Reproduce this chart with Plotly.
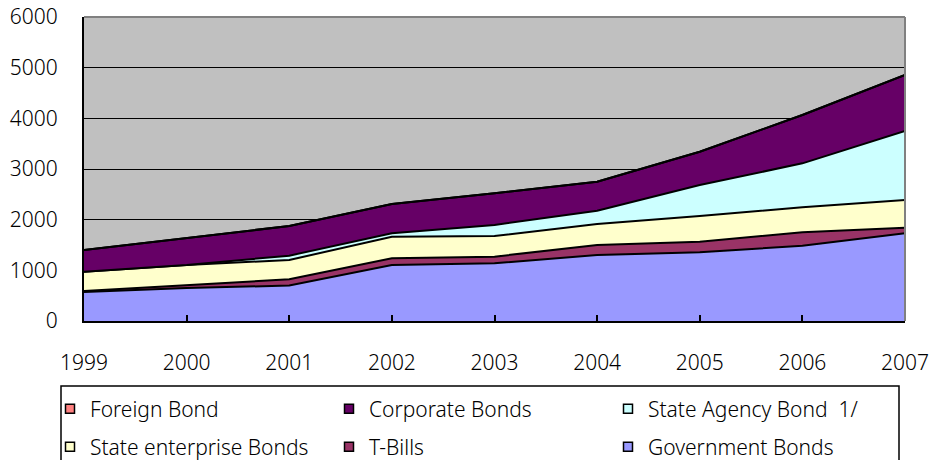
import plotly.graph_objects as go

years = [1999, 2000, 2001, 2002, 2003, 2004, 2005, 2006, 2007]
government_bonds = [570, 650, 700, 1105, 1138, 1302, 1356, 1486, 1730]
t_bills = [20, 54, 122, 132, 132, 198, 209, 264, 112]
state_enterprise = [383, 401, 382, 427, 408, 414, 507, 494, 546]
state_agency = [0, 0, 86, 66, 217, 263, 612, 868, 1362]
corporate = [428, 527, 585, 579, 625, 573, 657, 954, 1105]
foreign_bond = [0, 0, 0, 0, 0, 0, 0, 0, 0]

series = [
    ("Government Bonds", government_bonds, "#9999FF"),
    ("T-Bills", t_bills, "#993366"),
    ("State enterprise Bonds", state_enterprise, "#FFFFCC"),
    ("State Agency Bond\u00a0 1/", state_agency, "#CCFFFF"),
    ("Corporate Bonds", corporate, "#660066"),
    ("Foreign Bond", foreign_bond, "#FF8080"),
]

fig = go.Figure()
for name, vals, col in series:
    fig.add_trace(go.Scatter(
        x=years, y=vals, name=name, mode="lines", stackgroup="one",
        line=dict(color="black", width=2), fillcolor=col, showlegend=False,
    ))

# legend rows (as in the reference: 3 columns, 2 rows)
row1 = ["Foreign Bond", "Corporate Bonds", "State Agency Bond\u00a0 1/"]
row2 = ["State enterprise Bonds", "T-Bills", "Government Bonds"]
colors = {n: c for n, _, c in series}
for leg, row in (("legend", row1), ("legend2", row2)):
    for name in row:
        fig.add_trace(go.Scatter(x=[None], y=[None], mode="markers", name=name, legend=leg,
                                 marker=dict(symbol="square", size=9, color=colors[name],
                                             line=dict(color="black", width=1.5))))

L, R, T, B = 84, 24, 17, 139
W, H = 929, 460
pw = W - L - R
ph = H - T - B

def px_x(px):
    return (px - L) / pw

def px_y(py):
    return (H - B - py) / ph

FONT = "Noto Sans"
leg_common = dict(orientation="h", xanchor="left", yanchor="middle", traceorder="normal",
                  font=dict(family=FONT, size=21, color="black", weight=300),
                  bgcolor="rgba(0,0,0,0)", borderwidth=0,
                  entrywidth=234, entrywidthmode="pixels", itemclick=False)

fig.update_layout(
    width=W, height=H,
    margin=dict(l=L, r=R, t=T, b=B, autoexpand=False),
    paper_bgcolor="white",
    plot_bgcolor="#C0C0C0",
    font=dict(family=FONT, size=21, color="black", weight=300),
    legend=dict(x=px_x(50), y=px_y(409), **leg_common),
    legend2=dict(x=px_x(50), y=px_y(447), **leg_common),
    xaxis=dict(range=[1999, 2007], tickvals=years, ticktext=[str(y) for y in years],
               showgrid=False, zeroline=False, showline=True, linecolor="black", linewidth=2,
               ticks="inside", ticklen=6, tickcolor="black", tickwidth=1.5,
               ticklabelstandoff=22, ticklabeloverflow="allow", fixedrange=True),
    yaxis=dict(range=[0, 6000], dtick=1000, showgrid=True, gridcolor="black", gridwidth=1,
               zeroline=False, showline=True, linecolor="black", linewidth=2,
               ticks="", ticklabelstandoff=20, fixedrange=True),
    shapes=[
        dict(type="line", xref="paper", yref="paper", x0=0, x1=1, y0=1, y1=1,
             line=dict(color="#808080", width=2)),
        dict(type="line", xref="paper", yref="paper", x0=1, x1=1, y0=0, y1=1,
             line=dict(color="#808080", width=2)),
        dict(type="rect", xref="paper", yref="paper",
             x0=px_x(61), x1=px_x(899), y0=px_y(386), y1=px_y(475),
             line=dict(color="black", width=1.5), fillcolor="rgba(0,0,0,0)"),
    ],
)

fig.write_html("out.html")
